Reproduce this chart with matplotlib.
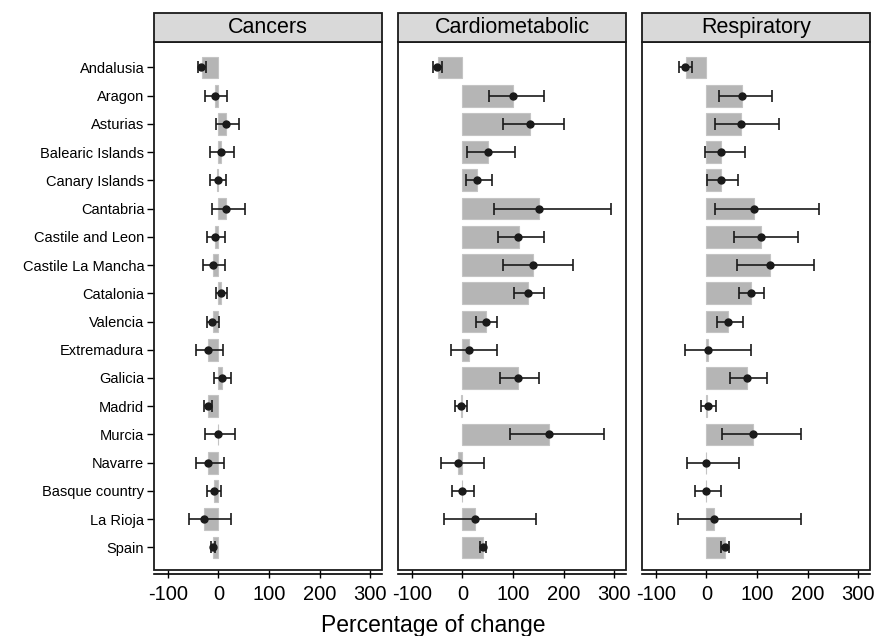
import matplotlib.pyplot as plt
from matplotlib.patches import Rectangle

plt.rcParams['font.family'] = ['Liberation Sans', 'DejaVu Sans']

regions = ["Andalusia", "Aragon", "Asturias", "Balearic Islands", "Canary Islands",
           "Cantabria", "Castile and Leon", "Castile La Mancha", "Catalonia", "Valencia",
           "Extremadura", "Galicia", "Madrid", "Murcia", "Navarre", "Basque country",
           "La Rioja", "Spain"]

# Cancers
canc_bar = [-33, -6, 15, 6, -2, 16, -6, -11, 5, -11, -20, 6.6, -20, 0, -20, -8, -28, -10]
canc_est = [-34, -6.5, 16, 5.5, -1.3, 16, -6, -11, 5, -12, -20, 6.6, -20, 0, -20, -9, -28, -10.5]
canc_lo = [-41, -27, -4.6, -16.4, -16.4, -12, -22, -31, -5, -22, -43.5, -8.5, -28, -25.7, -45, -22, -57, -14.5]
canc_hi = [-24, 16.6, 41.6, 31, 15, 53, 12.7, 14, 18, 0.8, 10, 24.5, -12, 33.6, 11, 5.4, 24, -6]

# Cardiometabolic
card_bar = [-49, 100.5, 133, 50, 29.5, 152, 111, 139, 129, 46.5, 13.8, 109, -2, 171, -8.5, 0, 25, 40.7]
card_est = [-50.6, 100, 133, 50, 29.5, 152, 110, 139, 129, 46.5, 13.8, 109, -2, 171, -9, -0.7, 25, 41]
card_lo = [-57, 53, 81, 9, 6.5, 61.7, 70, 80, 101.7, 26.8, -23, 74, -13.8, 94, -43, -20.4, -35.5, 34]
card_hi = [-40.8, 161.6, 201, 103.6, 59, 293.6, 161.6, 218, 161.6, 69, 69, 151, 9, 280, 42.7, 23.6, 146, 47]

# Respiratory
resp_bar = [-40.7, 70, 68.6, 29, 29, 94, 108.7, 125, 87.7, 43, 2.6, 80, 2, 93, -1, 0, 14.5, 37.5]
resp_est = [-41.5, 70, 68.6, 29, 29, 94, 108.7, 125, 87.7, 43, 4, 80, 2.7, 93, 0, 0, 14.5, 37.5]
resp_lo = [-53, 24.5, 16.6, -3.3, 2, 17, 55, 60.7, 64, 20.5, -42, 47, -10, 30, -38, -21.7, -55, 29]
resp_hi = [-29, 130, 144, 76, 62.6, 222, 180, 213, 113, 72.5, 89, 120.5, 19, 187, 64.6, 29.6, 187, 45.5]

panels = [
    ("Cancers", canc_bar, canc_est, canc_lo, canc_hi),
    ("Cardiometabolic", card_bar, card_est, card_lo, card_hi),
    ("Respiratory", resp_bar, resp_est, resp_lo, resp_hi),
]
xticks = [-100, 0, 100, 200, 300]

fig = plt.figure(figsize=(8.77, 6.36), dpi=100)
lefts = [154, 398, 642]
ypos = list(range(len(regions)))

for i, (title, bars, est, lo, hi) in enumerate(panels):
    ax = fig.add_axes([lefts[i] / 877, 1 - 570 / 636, 228 / 877, 528 / 636])
    # spine position first: it resets tick settings
    for s in ["top", "left", "right"]:
        ax.spines[s].set_visible(False)
    ax.spines["bottom"].set_position(("outward", 3))
    ax.spines["bottom"].set_linewidth(1.2)

    ax.barh(ypos, bars, height=0.77, color="#b5b5b5", edgecolor="#c4c4c4", linewidth=0.8, zorder=2)
    xerr = [[e - l for e, l in zip(est, lo)], [h - e for e, h in zip(est, hi)]]
    ax.errorbar(est, ypos, xerr=xerr, fmt="o", color="#1a1a1a", ms=5,
                elinewidth=1.2, capsize=4.2, capthick=1.2, zorder=3)
    ax.set_xlim(-127, 323)
    ax.set_ylim(17.8, -0.9)
    ax.set_xticks(xticks)
    ax.set_xticklabels([str(t) for t in xticks])
    ax.tick_params(axis="x", direction="inout", length=6, width=1, pad=5, labelsize=14.5)

    # plot box
    ax.add_patch(Rectangle((0, 0), 1, 1, transform=ax.transAxes, fill=False,
                           edgecolor="#1a1a1a", linewidth=1.3, clip_on=False, zorder=5))
    # header strip
    hh = 29 / 528
    ax.add_patch(Rectangle((0, 1), 1, hh, transform=ax.transAxes, facecolor="#d9d9d9",
                           edgecolor="#1a1a1a", linewidth=1.3, clip_on=False, zorder=5))
    ax.text(0.5, 1 + hh / 2, title, transform=ax.transAxes, ha="center", va="center",
            fontsize=15.5, zorder=6)

    if i == 0:
        ax.set_yticks(ypos)
        ax.set_yticklabels(regions)
        ax.tick_params(axis="y", direction="out", length=5, width=1, pad=2, labelsize=10.5)
    else:
        ax.set_yticks([])

fig.text(433 / 877, 1 - 632 / 636, "Percentage of change", ha="center", va="baseline", fontsize=16.5)

fig.savefig("out.png", dpi=100)
